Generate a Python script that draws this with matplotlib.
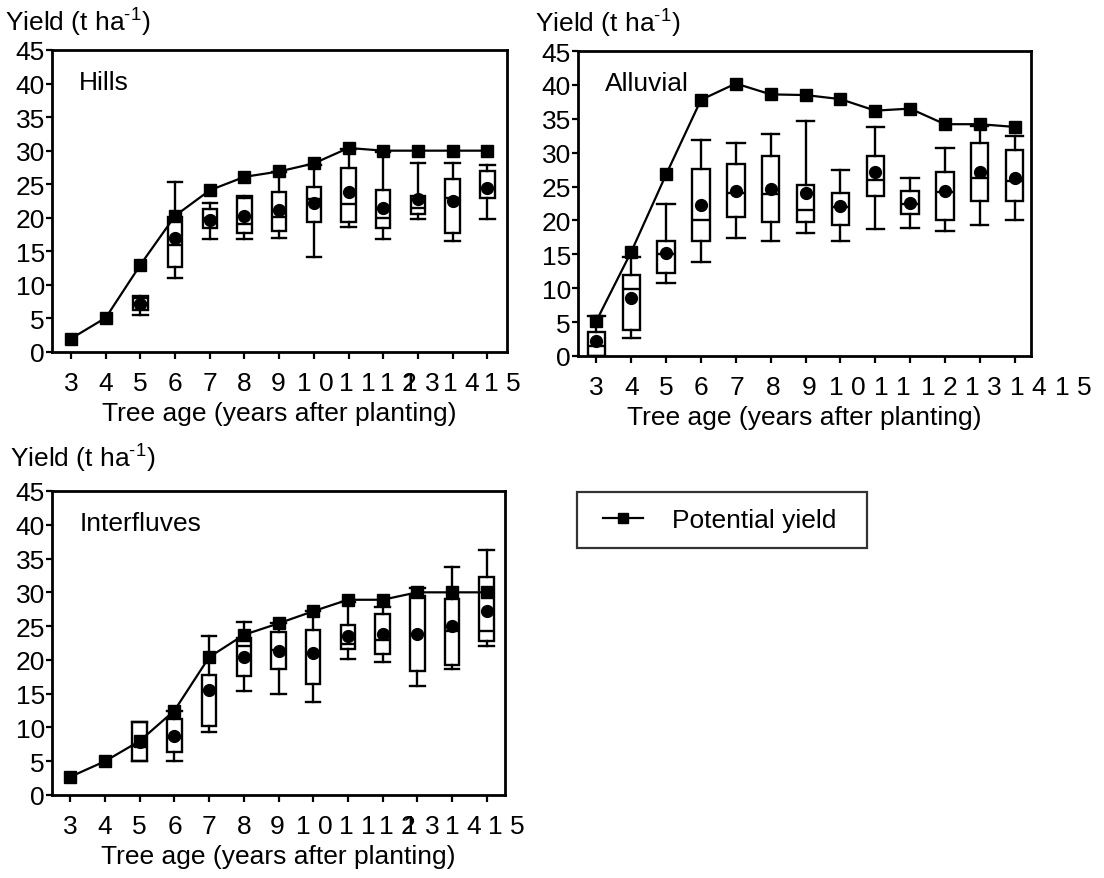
import matplotlib
matplotlib.use("Agg")
import matplotlib.pyplot as plt
from matplotlib.lines import Line2D
from matplotlib.legend_handler import HandlerLine2D
from matplotlib.transforms import ScaledTranslation

plt.rcParams["font.family"] = ["Liberation Sans", "DejaVu Sans"]
plt.rcParams["font.size"] = 19
plt.rcParams["mathtext.fontset"] = "custom"
plt.rcParams["mathtext.rm"] = "Liberation Sans"
plt.rcParams["mathtext.default"] = "regular"

# ---- data ----
ages = [3, 4, 5, 6, 7, 8, 9, 10, 11, 12, 13, 14, 15]
age_labels = ["3", "4", "5", "6", "7", "8", "9",
              "1 0", "1 1", "1 2", "1 3", "1 4", "1 5"]
yticks = [0, 5, 10, 15, 20, 25, 30, 35, 40, 45]

hills_potential = [2.0, 5.1, 13.0, 20.3, 24.1, 26.1, 26.9, 28.1, 30.4, 30.0, 30.0, 30.0, 30.0]
hills_box_age = [5, 6, 7, 8, 9, 10, 11, 12, 13, 14, 15]
hills_wlo = [5.5, 11.0, 16.9, 16.9, 17.0, 14.2, 18.6, 16.9, 19.8, 16.6, 19.8]
hills_q1 = [6.3, 12.6, 18.5, 17.7, 18.1, 19.3, 19.3, 18.5, 20.5, 17.8, 22.9]
hills_med = [7.3, 16.0, 20.0, 19.1, 20.1, 22.8, 22.0, 19.9, 21.5, 23.0, 24.5]
hills_q3 = [8.0, 20.1, 21.3, 22.9, 23.8, 24.6, 27.4, 24.1, 23.3, 25.8, 27.0]
hills_whi = [8.3, 25.3, 22.2, 23.3, 26.8, 27.8, 30.2, 29.8, 28.1, 28.1, 27.8]
hills_mean = [7.2, 17.0, 19.7, 20.2, 21.2, 22.2, 23.8, 21.4, 22.8, 22.5, 24.5]

alluv_potential = [5.2, 15.4, 26.8, 37.8, 40.2, 38.6, 38.5, 37.9, 36.2, 36.5, 34.2, 34.2, 33.8]
alluv_box_age = [3, 4, 5, 6, 7, 8, 9, 10, 11, 12, 13, 14, 15]
alluv_wlo = [0.0, 2.7, 10.7, 13.9, 17.4, 17.0, 18.1, 17.0, 18.8, 18.9, 18.5, 19.3, 20.1]
alluv_q1 = [0.0, 3.9, 12.2, 17.0, 20.5, 19.7, 19.7, 19.3, 23.6, 20.9, 20.0, 22.9, 22.9]
alluv_med = [1.5, 9.9, 15.1, 20.1, 24.0, 23.9, 21.5, 22.0, 25.9, 22.5, 24.2, 26.2, 25.8]
alluv_q3 = [3.6, 11.9, 17.0, 27.6, 28.4, 29.5, 25.2, 24.0, 29.5, 24.4, 27.1, 31.5, 30.4]
alluv_whi = [5.9, 14.6, 22.5, 31.9, 31.5, 32.7, 34.7, 27.5, 33.8, 26.3, 30.7, 34.0, 32.4]
alluv_mean = [2.2, 8.6, 15.2, 22.3, 24.3, 24.6, 24.1, 22.1, 27.1, 22.6, 24.4, 27.1, 26.2]

inter_potential = [2.7, 5.0, 8.0, 12.5, 20.4, 23.7, 25.4, 27.2, 28.9, 28.9, 30.0, 30.0, 30.0]
inter_box_age = [5, 6, 7, 8, 9, 10, 11, 12, 13, 14, 15]
inter_wlo = [5.0, 5.1, 9.3, 15.4, 14.9, 13.8, 20.1, 19.7, 16.1, 18.6, 22.0]
inter_q1 = [5.0, 6.3, 10.2, 17.6, 18.6, 16.5, 21.6, 20.9, 18.4, 19.2, 22.8]
inter_med = [7.2, 8.5, 15.5, 22.1, 21.5, 21.0, 22.4, 22.9, 23.9, 24.3, 24.3]
inter_q3 = [10.8, 11.3, 17.7, 23.3, 24.2, 24.4, 25.2, 26.8, 29.5, 29.0, 32.3]
inter_whi = [10.8, 12.5, 23.6, 25.6, 25.4, 27.2, 28.5, 27.8, 30.7, 33.8, 36.2]
inter_mean = [7.8, 8.7, 15.6, 20.4, 21.3, 21.0, 23.5, 23.9, 23.9, 25.0, 27.3]


def box_stats(wlo, q1, med, q3, whi, mean):
    return [dict(whislo=a, q1=b, med=c, q3=d, whishi=e, mean=f)
            for a, b, c, d, e, f in zip(wlo, q1, med, q3, whi, mean)]


fig = plt.figure(figsize=(11.04, 8.79), dpi=100)

W, H = 1104, 879


def px_axes(left, top, right, bottom):
    return fig.add_axes([left / W, 1 - bottom / H, (right - left) / W, (bottom - top) / H])


def draw_panel(ax, name, potential, box_age, stats, width, label_shift, xlim):
    lw = 1.7
    ax.bxp(stats, positions=box_age, widths=width, capwidths=width,
           showmeans=True, showfliers=False, patch_artist=True,
           boxprops=dict(facecolor="white", edgecolor="black", linewidth=lw),
           medianprops=dict(color="black", linewidth=lw),
           whiskerprops=dict(color="black", linewidth=lw),
           capprops=dict(color="black", linewidth=lw),
           meanprops=dict(marker="o", markerfacecolor="black",
                          markeredgecolor="black", markersize=8.5),
           manage_ticks=False, zorder=2)
    ax.plot(ages, potential, color="black", linewidth=1.6, marker="s",
            markersize=9, zorder=3, clip_on=False)

    ax.set_xlim(*xlim)
    ax.set_ylim(0, 45)
    ax.set_yticks(yticks)
    ax.set_xticks(ages)
    ax.set_xticklabels(age_labels)
    for spine in ax.spines.values():
        spine.set_linewidth(2.0)
    ax.tick_params(axis="y", direction="out", length=4, width=1.6, pad=1)
    ax.tick_params(axis="x", direction="out", length=5, width=1.6, pad=9)
    # the reference has its two-digit labels drifting to the right
    for lab, dx in zip(ax.get_xticklabels(), label_shift):
        lab.set_transform(lab.get_transform()
                          + ScaledTranslation(dx / 100, 0, fig.dpi_scale_trans))
    ax.set_xlabel("Tree age (years after planting)", labelpad=4)
    ax.text(0.06, 0.895, name, transform=ax.transAxes, va="center", ha="left")


ax1 = px_axes(52, 51, 507, 353)
draw_panel(ax1, "Hills", hills_potential, hills_box_age,
           box_stats(hills_wlo, hills_q1, hills_med, hills_q3, hills_whi, hills_mean),
           0.42, [0, 0, 0, 0, 0, 0, -1, 1, 9, 15, 3, 9, 15], (2.45, 15.57))

ax2 = px_axes(578, 52, 1031, 357)
draw_panel(ax2, "Alluvial", alluv_potential, alluv_box_age,
           box_stats(alluv_wlo, alluv_q1, alluv_med, alluv_q3, alluv_whi, alluv_mean),
           0.5, [0, 0, 0, 0, 1, 2, 4, 7, 17, 29, 38, 49, 59], (2.47, 15.47))

ax3 = px_axes(52, 492, 505, 796)
draw_panel(ax3, "Interfluves", inter_potential, inter_box_age,
           box_stats(inter_wlo, inter_q1, inter_med, inter_q3, inter_whi, inter_mean),
           0.42, [0, 0, 0, 0, 0, 0, -1, 1, 9, 15, 4, 11, 20], (2.47, 15.53))

ylab = r"Yield (t ha$^{\text{-}1}$)"
fig.text(5 / W, 1 - 32 / H, ylab, ha="left", va="baseline")
fig.text(535 / W, 1 - 33 / H, ylab, ha="left", va="baseline")
fig.text(10 / W, 1 - 468 / H, ylab, ha="left", va="baseline")

handle = Line2D([], [], color="black", linewidth=1.6, marker="s", markersize=7)
leg = fig.legend([handle], ["Potential yield  "], loc="upper left",
                 bbox_to_anchor=(577 / W, 1 - 493 / H), borderaxespad=0,
                 frameon=True, fancybox=False, edgecolor="black",
                 handlelength=1.9, handletextpad=1.1, borderpad=0.6,
                 handler_map={handle: HandlerLine2D(xpad=0.4)})
leg.get_frame().set_linewidth(1.6)

fig.savefig("out.png", dpi=100)
